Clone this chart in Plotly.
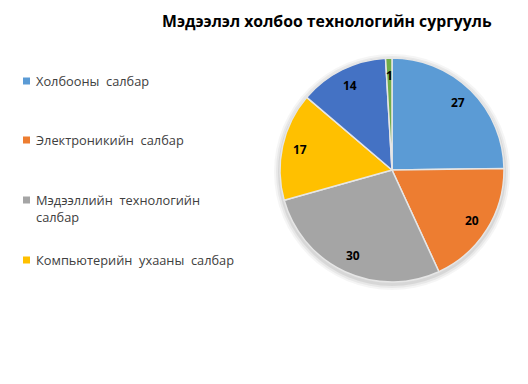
import math
import plotly.graph_objects as go

title = "Мэдээлэл холбоо технологийн сургууль"
labels = ["Холбооны салбар", "Электроникийн салбар", "Мэдээллийн технологийн салбар",
          "Компьютерийн ухааны салбар", "Бусад салбар", "Бусад"]
values = [27, 20, 30, 17, 14, 1]
colors = ["#5B9BD5", "#ED7D31", "#A5A5A5", "#FFC000", "#4472C4", "#70AD47"]
legend_text = ["Холбооны\u00a0 салбар", "Электроникийн\u00a0 салбар",
               "Мэдээллийн\u00a0 технологийн<br>салбар", "Компьютерийн\u00a0 ухааны\u00a0 салбар"]

OFF = 8  # browser body margin
W, H = 528 - 2 * OFF, 384 - 2 * OFF


def X(px):
    return (px - OFF) / W


def Y(py):
    return 1 - (py - OFF) / H


cx, cy, r = 392, 170, 112  # window-pixel layout of pie

fig = go.Figure()
fig.add_trace(go.Pie(
    labels=labels, values=values, sort=False, direction="clockwise", rotation=0,
    marker=dict(colors=colors, line=dict(color="#E6E6E6", width=1.5)),
    textinfo="none", hoverinfo="label+value", showlegend=False,
    domain=dict(x=[X(cx - r), X(cx + r)], y=[Y(cy + r), Y(cy - r)]),
))

# soft shadow
shapes = []
for dr, op in [(6, 0.04), (4, 0.05), (2, 0.07)]:
    rr = r + dr
    shapes.append(dict(type="circle", xref="paper", yref="paper", layer="below",
                       x0=X(cx - rr), x1=X(cx + rr), y0=Y(cy + 2 + rr), y1=Y(cy + 2 - rr),
                       fillcolor=f"rgba(0,0,0,{op})", line=dict(width=0)))

annotations = []
# data labels computed from values
total = sum(values)
cum = 0
for v in values:
    mid = (cum + v / 2) / total * 2 * math.pi
    cum += v
    rl = 0.84 * r
    px = cx + rl * math.sin(mid)
    py = cy - rl * math.cos(mid)
    annotations.append(dict(x=X(px), y=Y(py), xref="paper", yref="paper",
                            xanchor="center", yanchor="middle",
                            text=f"<b>{v}</b>", showarrow=False,
                            font=dict(family="Open Sans", size=12, color="#000000")))

# legend (only first four entries visible, as in the original)
leg_y = [81, 140, 208, 260]
for t, c, y in zip(legend_text, colors[:4], leg_y):
    top = 200 if "<br>" in t else y
    shapes.append(dict(type="rect", xref="paper", yref="paper",
                       x0=X(23), x1=X(30), y0=Y(top + 3.5), y1=Y(top - 3.5),
                       fillcolor=c, line=dict(width=0)))
    annotations.append(dict(x=X(34), y=Y(y), xref="paper", yref="paper",
                            xanchor="left", yanchor="middle", align="left",
                            text=t, showarrow=False,
                            font=dict(family="Open Sans", size=12.8, color="#404040")))

annotations.append(dict(x=X(327), y=Y(21), xref="paper", yref="paper",
                        xanchor="center", yanchor="middle",
                        text=f"<b>{title}</b>", showarrow=False,
                        font=dict(family="Open Sans", size=15.8, color="#000000")))

fig.update_layout(width=W, height=H, margin=dict(l=0, r=0, t=0, b=0),
                  paper_bgcolor="white", plot_bgcolor="white",
                  shapes=shapes, annotations=annotations)
fig.write_html("out.html")
